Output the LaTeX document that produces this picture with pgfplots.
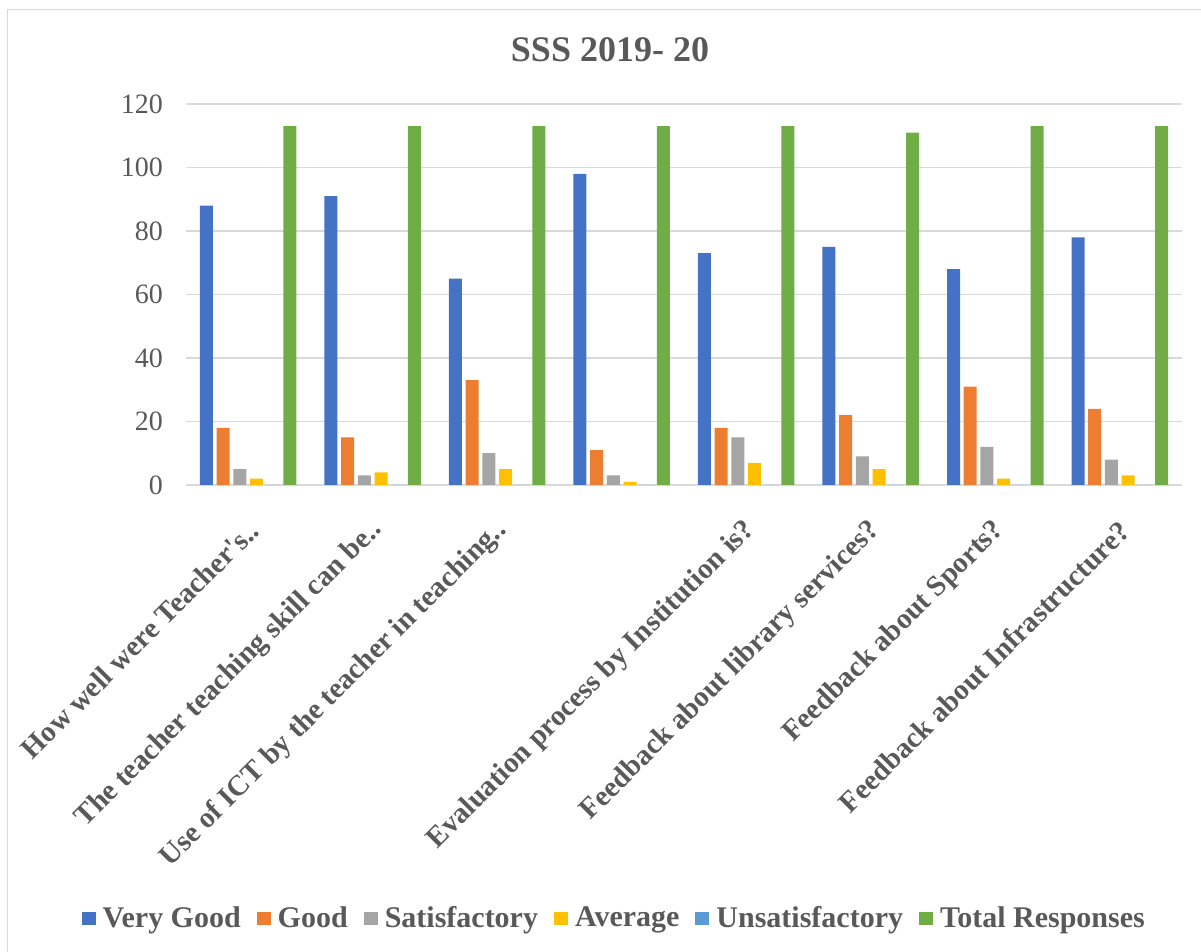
\documentclass[border=0pt]{standalone}
\usepackage{fontspec}
\setmainfont{Liberation Serif}
\usepackage{pgfplots}
\pgfplotsset{compat=1.18}

\definecolor{cVG}{HTML}{4472C4}
\definecolor{cG}{HTML}{ED7D31}
\definecolor{cS}{HTML}{A5A5A5}
\definecolor{cA}{HTML}{FFC000}
\definecolor{cU}{HTML}{5B9BD5}
\definecolor{cT}{HTML}{70AD47}
\definecolor{txt}{HTML}{595959}
\definecolor{gridc}{HTML}{D9D9D9}

\begin{document}
\begin{tikzpicture}
\useasboundingbox (0,0) rectangle (600.5pt,476pt);
% chart frame
\draw[gridc, line width=0.75pt] (3.75pt,0pt) -- (3.75pt,471.25pt) -- (600.5pt,471.25pt);
\node[font=\bfseries\fontsize{18}{20}\selectfont, text=txt] at (305pt,451pt) {SSS 2019- 20};

\begin{axis}[
  at={(93pt,233.5pt)}, anchor=south west,
  scale only axis, width=498pt, height=190.5pt,
  ybar=1.85pt, bar width=6.5pt,
  xmin=-0.5, xmax=7.5, ymin=0, ymax=120,
  ytick={0,20,...,120},
  xtick={0,...,7},
  xticklabels={{How well were Teacher\textquotesingle s..},{The teacher teaching skill can be..},{Use of ICT by the teacher in teaching..},{},{Evaluation process by Institution is?},{Feedback about library services?},{Feedback about Sports?},{Feedback about Infrastructure?}},
  axis line style={draw=none},
  ymajorgrids, grid style={gridc, line width=0.75pt},
  major tick length=0pt,
  /pgf/number format/assume math mode=true,
  tick label style={font=\fontsize{14}{16}\selectfont, text=txt},
  yticklabel style={xshift=-8pt},
  xticklabel style={font=\bfseries\fontsize{14.5}{16}\selectfont, xshift=5pt, yshift=-18pt, rotate=45, anchor=east},
  legend columns=6,
  legend style={at={(0.431,-1.138)}, anchor=center, draw=none, fill=none,
    font=\bfseries\fontsize{15}{17}\selectfont, text=txt,
    /tikz/every odd column/.append style={column sep=1.5pt},
    /tikz/every even column/.append style={column sep=6pt}},
  legend image code/.code={\fill[#1] (0pt,-3.25pt) rectangle (7pt,3.25pt);},
]
\addplot[fill=cVG, draw=none] coordinates {(0,88) (1,91) (2,65) (3,98) (4,73) (5,75) (6,68) (7,78)};
\addplot[fill=cG, draw=none] coordinates {(0,18) (1,15) (2,33) (3,11) (4,18) (5,22) (6,31) (7,24)};
\addplot[fill=cS, draw=none] coordinates {(0,5) (1,3) (2,10) (3,3) (4,15) (5,9) (6,12) (7,8)};
\addplot[fill=cA, draw=none] coordinates {(0,2) (1,4) (2,5) (3,1) (4,7) (5,5) (6,2) (7,3)};
\addplot[fill=cU, draw=none] coordinates {(0,0) (1,0) (2,0) (3,0) (4,0) (5,0) (6,0) (7,0)};
\addplot[fill=cT, draw=none] coordinates {(0,113) (1,113) (2,113) (3,113) (4,113) (5,111) (6,113) (7,113)};
\legend{Very Good, Good, Satisfactory, Average, Unsatisfactory, Total Responses}
\end{axis}
\end{tikzpicture}
\end{document}
